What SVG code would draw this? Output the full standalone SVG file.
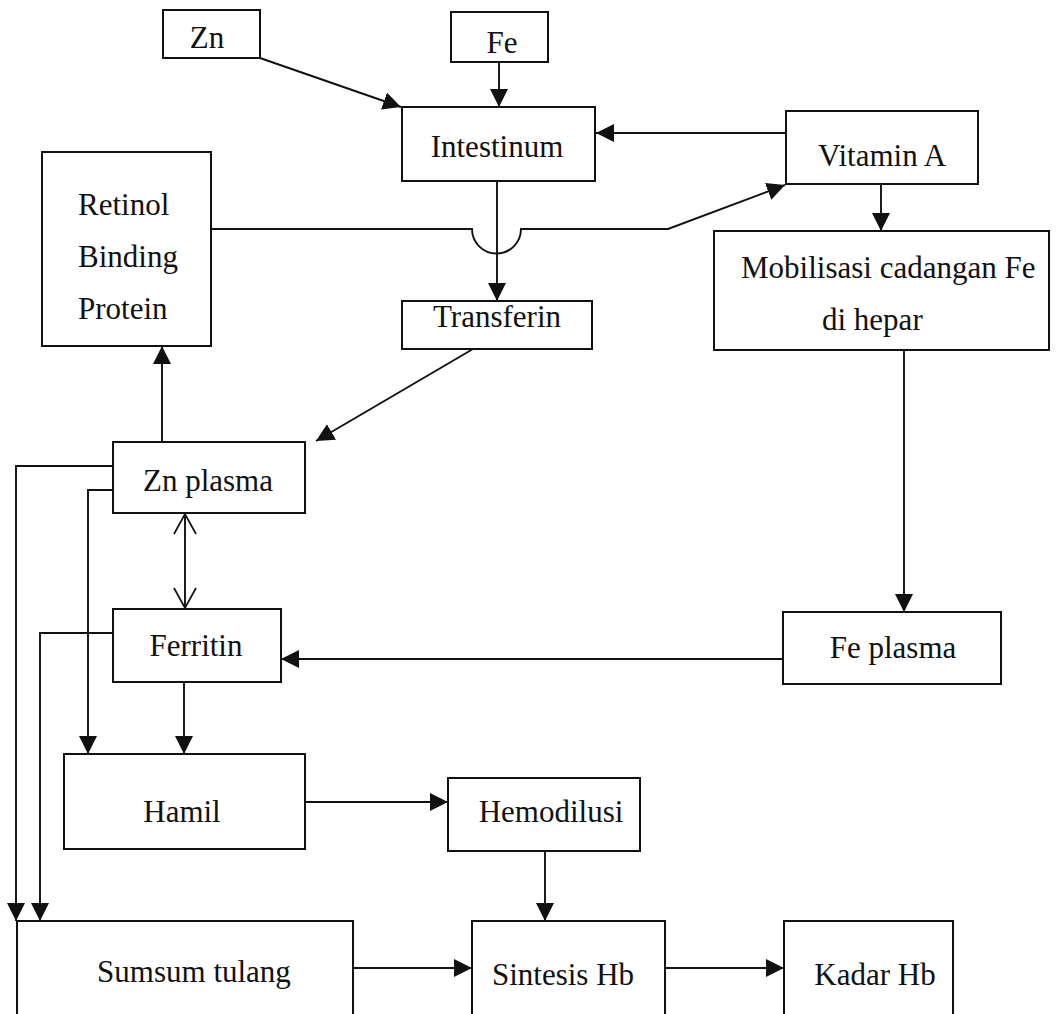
<svg xmlns="http://www.w3.org/2000/svg" width="1056" height="1014" viewBox="0 0 1056 1014">
<style>
.box{fill:#fff;stroke:#111;stroke-width:2}
.lbl{font-family:"Liberation Serif","Times New Roman",serif;font-size:31px;fill:#111}
.mid{text-anchor:middle}
.con{fill:none;stroke:#111;stroke-width:1.9}
.arr{marker-end:url(#tri)}
</style>
<defs>
<marker id="tri" markerUnits="userSpaceOnUse" markerWidth="20" markerHeight="18" refX="18" refY="9" orient="auto">
<path d="M0,0 L18,9 L0,18 z" fill="#111"/>
</marker>
<marker id="vee" markerUnits="userSpaceOnUse" markerWidth="24" markerHeight="26" refX="21" refY="12" orient="auto-start-reverse">
<path d="M1,1 L21,12 L1,23" fill="none" stroke="#111" stroke-width="1.7"/>
</marker>
</defs>
<rect width="1056" height="1014" fill="#fff"/>
<g id="connectors">
<path class="con arr" d="M260,58 L401,107"/>
<path class="con arr" d="M499,62 L499,107"/>
<path class="con arr" d="M786,133 L596,133"/>
<path class="con arr" d="M497,181 L497,301"/>
<path class="con arr" d="M211,229 L472,229 A24.5,24.5 0 0 0 521,229 L668,229 L785,185"/>
<path class="con arr" d="M881,184 L881,231"/>
<path class="con arr" d="M162,442 L162,346"/>
<path class="con arr" d="M473,349 L316,441"/>
<path class="con arr" d="M113,466 L16,466 L16,921"/>
<path class="con arr" d="M113,490 L88,490 L88,754"/>
<path class="con" d="M185,514 L185,608" marker-start="url(#vee)" marker-end="url(#vee)"/>
<path class="con arr" d="M113,633 L40,633 L40,921"/>
<path class="con arr" d="M904,350 L904,612"/>
<path class="con arr" d="M783,659 L281,659"/>
<path class="con arr" d="M184,682 L184,754"/>
<path class="con arr" d="M305,802 L448,802"/>
<path class="con arr" d="M545,851 L545,921"/>
<path class="con arr" d="M353,968 L472,968"/>
<path class="con arr" d="M665,968 L784,968"/>
</g>
<g id="zn"><rect class="box" x="163" y="10" width="97" height="48"/><text class="lbl mid" x="207" y="48">Zn</text></g>
<g id="fe"><rect class="box" x="451" y="12" width="97" height="50"/><text class="lbl mid" x="502" y="53">Fe</text></g>
<g id="intestinum"><rect class="box" x="402" y="107" width="193" height="74"/><text class="lbl mid" x="497" y="157">Intestinum</text></g>
<g id="vitamin-a"><rect class="box" x="786" y="111" width="192" height="73"/><text class="lbl mid" x="882" y="166">Vitamin A</text></g>
<g id="retinol"><rect class="box" x="42" y="152" width="169" height="194"/><text class="lbl" x="78" y="215">Retinol</text><text class="lbl" x="78" y="267">Binding</text><text class="lbl" x="78" y="319">Protein</text></g>
<g id="transferin"><rect class="box" x="402" y="301" width="190" height="48"/><text class="lbl mid" x="497" y="327">Transferin</text></g>
<g id="mobilisasi"><rect class="box" x="714" y="231" width="335" height="119"/><text class="lbl" x="741" y="278">Mobilisasi cadangan Fe</text><text class="lbl" x="822" y="330">di hepar</text></g>
<g id="zn-plasma"><rect class="box" x="113" y="442" width="192" height="71"/><text class="lbl mid" x="208" y="491">Zn plasma</text></g>
<g id="ferritin"><rect class="box" x="113" y="609" width="168" height="73"/><text class="lbl mid" x="196" y="656">Ferritin</text></g>
<g id="fe-plasma"><rect class="box" x="783" y="612" width="218" height="72"/><text class="lbl mid" x="893" y="658">Fe plasma</text></g>
<g id="hamil"><rect class="box" x="64" y="754" width="241" height="95"/><text class="lbl mid" x="182" y="822">Hamil</text></g>
<g id="hemodilusi"><rect class="box" x="448" y="778" width="192" height="73"/><text class="lbl mid" x="551" y="822">Hemodilusi</text></g>
<g id="sumsum"><rect class="box" x="17" y="921" width="336" height="120"/><text class="lbl mid" x="194" y="982">Sumsum tulang</text></g>
<g id="sintesis"><rect class="box" x="472" y="921" width="193" height="120"/><text class="lbl mid" x="563" y="985">Sintesis Hb</text></g>
<g id="kadar"><rect class="box" x="784" y="921" width="169" height="120"/><text class="lbl mid" x="875" y="985">Kadar Hb</text></g>
</svg>
